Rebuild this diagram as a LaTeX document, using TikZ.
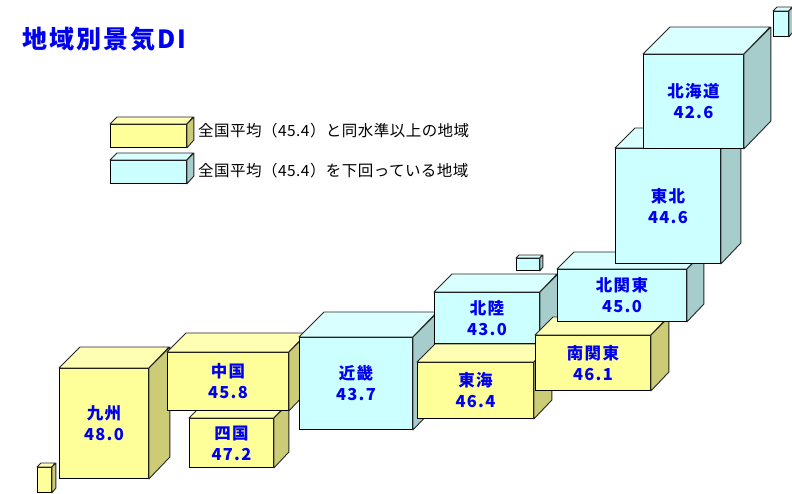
\documentclass[tikz,border=0pt]{standalone}
\usepackage{fontspec}
\setmainfont{Noto Sans CJK JP}
\usetikzlibrary{positioning}
\definecolor{yface}{HTML}{FFFF99}
\definecolor{ytop}{HTML}{FFFFB3}
\definecolor{yside}{HTML}{CCCC77}
\definecolor{cface}{HTML}{CCFFFF}
\definecolor{ctop}{HTML}{DAFFFF}
\definecolor{cside}{HTML}{A6CCCC}
\definecolor{dblue}{HTML}{0000F0}
\tikzset{
  front/.style={draw=black,line width=0.9pt,anchor=north west,inner sep=0pt,align=center,
    text=dblue,font=\fontsize{16.5}{21}\selectfont\bfseries\addfontfeatures{LetterSpace=8}},
  yfront/.style={front,fill=yface},
  cfront/.style={front,fill=cface},
  ytopf/.style={draw=black!85,line width=0.9pt,fill=ytop,line join=round},
  ysidef/.style={draw=black!85,line width=0.9pt,fill=yside,line join=round},
  ctopf/.style={draw=black!85,line width=0.9pt,fill=ctop,line join=round},
  csidef/.style={draw=black!85,line width=0.9pt,fill=cside,line join=round},
  legtext/.style={anchor=west,inner sep=0pt,font=\fontsize{15.5}{18}\selectfont\addfontfeatures{LetterSpace=3}}
}
\begin{document}
\begin{tikzpicture}[x=1pt,y=-1pt]
\useasboundingbox[fill=white] (0,0) rectangle (792,493);
% title
\node[anchor=west,inner sep=0pt,text=dblue,font=\fontsize{25}{28}\selectfont\bfseries\addfontfeatures{LetterSpace=8}] (title) at (22,39) {地域別景気DI};
% legend
\node[yfront,minimum width=76,minimum height=23] (ly) at (110,124) {};
\filldraw[ytopf] (ly.north west) -- ++(7,-7) -- ++(76,0) -- (ly.north east) -- cycle;
\filldraw[ysidef] (ly.north east) -- ++(7,-7) -- ++(0,23) -- (ly.south east) -- cycle;
\node[legtext] (lyt) at (198,131) {全国平均（45.4）と同水準以上の地域};
\node[cfront,minimum width=76,minimum height=23] (lc) at (110,160) {};
\filldraw[ctopf] (lc.north west) -- ++(7,-7) -- ++(76,0) -- (lc.north east) -- cycle;
\filldraw[csidef] (lc.north east) -- ++(7,-7) -- ++(0,23) -- (lc.south east) -- cycle;
\node[legtext] (lct) at (198,171) {全国平均（45.4）を下回っている地域};
% okinawa
\node[yfront,minimum width=14,minimum height=25] (okinawa) at (37,467) {};
\filldraw[ytopf] (okinawa.north west) -- ++(4,-4) -- ++(14,0) -- (okinawa.north east) -- cycle;
\filldraw[ysidef] (okinawa.north east) -- ++(4,-4) -- ++(0,25) -- (okinawa.south east) -- cycle;
% kyushu
\node[yfront,minimum width=89,minimum height=110] (kyushu) at (59,368) {九州\\48.0};
\filldraw[ytopf] (kyushu.north west) -- ++(21,-21) -- ++(89,0) -- (kyushu.north east) -- cycle;
\filldraw[ysidef] (kyushu.north east) -- ++(21,-21) -- ++(0,110) -- (kyushu.south east) -- cycle;
% shikoku
\node[yfront,minimum width=84,minimum height=49] (shikoku) at (189,418) {四国\\47.2};
\filldraw[ytopf] (shikoku.north west) -- ++(15,-15) -- ++(84,0) -- (shikoku.north east) -- cycle;
\filldraw[ysidef] (shikoku.north east) -- ++(15,-15) -- ++(0,49) -- (shikoku.south east) -- cycle;
% chugoku
\node[yfront,minimum width=121,minimum height=58] (chugoku) at (167,352) {中国\\45.8};
\filldraw[ytopf] (chugoku.north west) -- ++(19,-19) -- ++(121,0) -- (chugoku.north east) -- cycle;
\filldraw[ysidef] (chugoku.north east) -- ++(19,-19) -- ++(0,58) -- (chugoku.south east) -- cycle;
% kinki
\node[cfront,minimum width=113,minimum height=92] (kinki) at (299,337) {近畿\\43.7};
\filldraw[ctopf] (kinki.north west) -- ++(25,-25) -- ++(113,0) -- (kinki.north east) -- cycle;
\filldraw[csidef] (kinki.north east) -- ++(25,-25) -- ++(0,92) -- (kinki.south east) -- cycle;
% hokuriku
\node[cfront,minimum width=105,minimum height=51] (hokuriku) at (434,292) {北陸\\43.0};
\filldraw[ctopf] (hokuriku.north west) -- ++(18,-18) -- ++(105,0) -- (hokuriku.north east) -- cycle;
\filldraw[csidef] (hokuriku.north east) -- ++(18,-18) -- ++(0,51) -- (hokuriku.south east) -- cycle;
% tokai
\node[yfront,minimum width=116,minimum height=56] (tokai) at (417,362) {東海\\46.4};
\filldraw[ytopf] (tokai.north west) -- ++(18,-18) -- ++(116,0) -- (tokai.north east) -- cycle;
\filldraw[ysidef] (tokai.north east) -- ++(18,-18) -- ++(0,56) -- (tokai.south east) -- cycle;
% sado
\node[cfront,minimum width=23,minimum height=12] (sado) at (516,258) {};
\filldraw[ctopf] (sado.north west) -- ++(3,-3) -- ++(23,0) -- (sado.north east) -- cycle;
\filldraw[csidef] (sado.north east) -- ++(3,-3) -- ++(0,12) -- (sado.south east) -- cycle;
% minami kanto
\node[yfront,minimum width=115,minimum height=55] (mkanto) at (535,335) {南関東\\46.1};
\filldraw[ytopf] (mkanto.north west) -- ++(18,-18) -- ++(115,0) -- (mkanto.north east) -- cycle;
\filldraw[ysidef] (mkanto.north east) -- ++(18,-18) -- ++(0,55) -- (mkanto.south east) -- cycle;
% kita kanto
\node[cfront,minimum width=129,minimum height=52] (kkanto) at (557,269) {北関東\\45.0};
\filldraw[ctopf] (kkanto.north west) -- ++(17,-17) -- ++(129,0) -- (kkanto.north east) -- cycle;
\filldraw[csidef] (kkanto.north east) -- ++(17,-17) -- ++(0,52) -- (kkanto.south east) -- cycle;
% tohoku
\node[cfront,minimum width=105,minimum height=115] (tohoku) at (615,148) {東北\\44.6};
\filldraw[ctopf] (tohoku.north west) -- ++(20,-20) -- ++(105,0) -- (tohoku.north east) -- cycle;
\filldraw[csidef] (tohoku.north east) -- ++(20,-20) -- ++(0,115) -- (tohoku.south east) -- cycle;
% hokkaido
\node[cfront,minimum width=100,minimum height=94] (hokkaido) at (643,54) {北海道\\42.6};
\filldraw[ctopf] (hokkaido.north west) -- ++(27,-27) -- ++(100,0) -- (hokkaido.north east) -- cycle;
\filldraw[csidef] (hokkaido.north east) -- ++(27,-27) -- ++(0,94) -- (hokkaido.south east) -- cycle;
% small island
\node[cfront,minimum width=15,minimum height=25] (isle) at (773,11) {};
\filldraw[ctopf] (isle.north west) -- ++(4,-4) -- ++(15,0) -- (isle.north east) -- cycle;
\filldraw[csidef] (isle.north east) -- ++(4,-4) -- ++(0,25) -- (isle.south east) -- cycle;
\end{tikzpicture}
\end{document}
